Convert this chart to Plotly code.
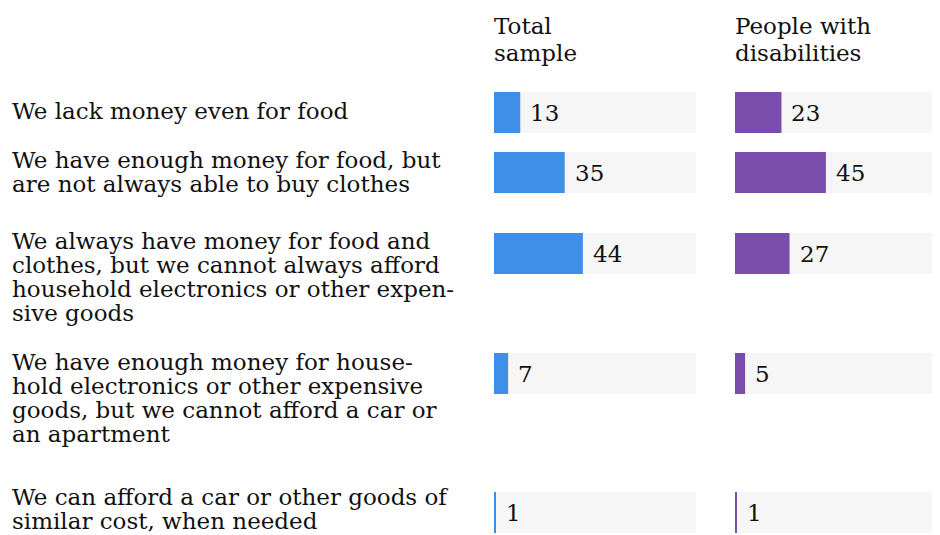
import plotly.graph_objects as go

# ---- data ----
categories = [
    ["We lack money even for food"],
    ["We have enough money for food, but", "are not always able to buy clothes"],
    ["We always have money for food and", "clothes, but we cannot always afford",
     "household electronics or other expen-", "sive goods"],
    ["We have enough money for house-", "hold electronics or other expensive",
     "goods, but we cannot afford a car or", "an apartment"],
    ["We can afford a car or other goods of", "similar cost, when needed"],
]
total_sample = [13, 35, 44, 7, 1]
disabilities = [23, 45, 27, 5, 1]
series_names = [["Total", "sample"], ["People with", "disabilities"]]

# ---- layout constants (page-pixel y units) ----
PAGE_W, PAGE_H = 940, 535
OFF = 8                      # page body margin
W, H = PAGE_W - OFF, PAGE_H - OFF
row_center = [112.5, 172.5, 253.5, 373.5, 512.5]
first_baseline = [119, 168, 249, 370, 505]
line_gap = 24
bar_h = 41
FONT = "DejaVu Serif"
FS = 23
BLUE = "#3f8fe9"
PURPLE = "#7a4cab"
TRACK = "#f6f6f6"


def px(xp):
    return (xp - OFF) / W


fig = go.Figure()
for xa, vals, col in [("x", total_sample, BLUE), ("x2", disabilities, PURPLE)]:
    fig.add_trace(go.Bar(x=[100] * len(vals), y=row_center, orientation="h",
                         width=bar_h, marker=dict(color=TRACK, line=dict(width=0)),
                         xaxis=xa, yaxis="y", hoverinfo="skip", showlegend=False))
    fig.add_trace(go.Bar(x=vals, y=row_center, orientation="h",
                         width=bar_h, marker=dict(color=col, line=dict(width=0)),
                         xaxis=xa, yaxis="y", hoverinfo="skip", showlegend=False))

ann = []
# category labels
for lines, b0 in zip(categories, first_baseline):
    for i, t in enumerate(lines):
        ann.append(dict(text=t, xref="paper", yref="y", x=px(10), y=b0 + i * line_gap - 8,
                        xanchor="left", yanchor="middle", showarrow=False,
                        font=dict(family=FONT, size=FS, color="#111")))
# values
for xr, vals in [("x", total_sample), ("x2", disabilities)]:
    for v, yc in zip(vals, row_center):
        ann.append(dict(text=str(v), xref=xr, yref="y", x=v, y=yc, xshift=8,
                        xanchor="left", yanchor="middle", showarrow=False,
                        font=dict(family=FONT, size=FS, color="#111")))
# headers
for xr, lines in [("x", series_names[0]), ("x2", series_names[1])]:
    for i, t in enumerate(lines):
        ann.append(dict(text=t, xref=xr, yref="y", x=0, y=34 + i * 27 - 8, xshift=-2,
                        xanchor="left", yanchor="middle", showarrow=False,
                        font=dict(family=FONT, size=FS, color="#111")))

fig.update_layout(
    width=W, height=H, margin=dict(l=0, r=0, t=0, b=0),
    paper_bgcolor="white", plot_bgcolor="white", barmode="overlay",
    xaxis=dict(domain=[px(494), px(696)], range=[0, 100], visible=False, fixedrange=True),
    xaxis2=dict(domain=[px(735), px(937)], range=[0, 100], visible=False, fixedrange=True),
    yaxis=dict(domain=[0, 1], range=[PAGE_H, OFF], visible=False, fixedrange=True),
    annotations=ann,
)
fig.write_html("out.html", config={"displayModeBar": False})
